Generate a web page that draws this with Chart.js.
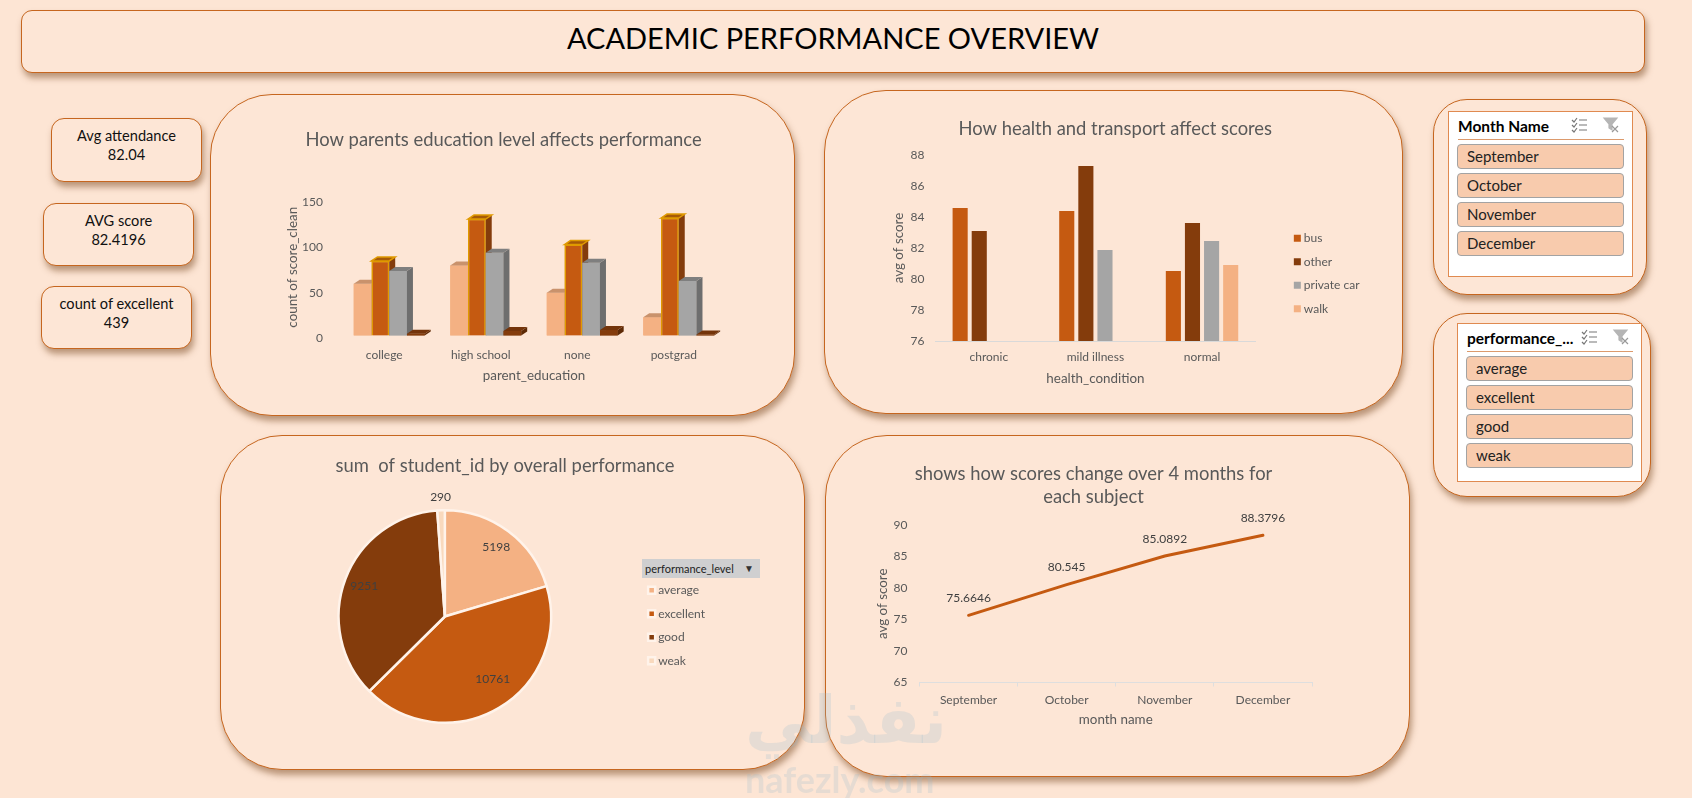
<!DOCTYPE html>
<html lang="en">

<head>
    <meta charset="UTF-8">
    <title>Academic Performance Overview</title>
    <script src="https://cdn.jsdelivr.net/npm/chart.js"></script>
    <style>
        html, body { margin: 0; width: 1692px; height: 798px; overflow: hidden; background: #fde5d4; font-family: Lato, sans-serif; }
        .box { position: absolute; box-sizing: border-box; background: #fde6d6; border: 1.8px solid #c6661f; box-shadow: 2px 5px 6px rgba(120, 70, 30, .5); }
        .panel { border-radius: 62px; }
        .kpi { border-radius: 13px; width: 151px; text-align: center; font-size: 14.6px; line-height: 19px; color: #111; padding-top: 7px; }
        #head { left: 21px; top: 10px; width: 1624px; height: 63px; border-radius: 11px; text-align: center; font-size: 29px; line-height: 54px; color: #000; }
        canvas { position: absolute; }
        .slicer { position: absolute; box-sizing: border-box; background: #fff; border: 1px solid #e08a50; }
        .slicer b { position: absolute; font-size: 15.5px; line-height: 20px; color: #000; }
        .slicer i { position: absolute; height: 1px; background: #dc9a6c; }
        .item { position: absolute; box-sizing: border-box; height: 25px; background: #f8cbad; border: 1px solid #a3a3a3; border-radius: 4px; font-size: 15px; line-height: 22px; padding-left: 9px; color: #222; }
        svg { position: absolute; }
        #field { position: absolute; left: 642px; top: 559px; width: 118px; height: 19px; background: #cfcfd0; font-size: 11px; line-height: 19px; padding-left: 3px; box-sizing: border-box; color: #222; }
        #field span { position: absolute; right: 6px; top: 1px; font-size: 10px; line-height: 17px; color: #333; }
        .mark { position: absolute; color: rgba(150, 185, 205, .22); font-weight: bold; pointer-events: none; white-space: nowrap; }
    </style>
</head>

<body>
    <div class="box" id="head">ACADEMIC PERFORMANCE OVERVIEW</div>

    <div class="box kpi" style="left:51px;top:118px;height:64px">Avg attendance<br>82.04</div>
    <div class="box kpi" style="left:43px;top:203px;height:63px">AVG score<br>82.4196</div>
    <div class="box kpi" style="left:41px;top:286px;height:63px">count of excellent<br>439</div>

    <div class="box panel" style="left:210px;top:94px;width:585px;height:322px"></div>
    <div class="box panel" style="left:824px;top:90px;width:579px;height:324px"></div>
    <div class="box panel" style="left:220px;top:435px;width:585px;height:335px"></div>
    <div class="box panel" style="left:825px;top:435px;width:585px;height:342px"></div>
    <div class="box" style="left:1433px;top:99px;width:214px;height:196px;border-radius:34px"></div>
    <div class="box" style="left:1433px;top:313px;width:218px;height:184px;border-radius:34px"></div>

    <div id="field">performance_level<span>&#9660;</span></div>

    <canvas id="eduChart" width="585" height="322" style="left:208px;top:94px"></canvas>
    <canvas id="healthChart" width="584" height="324" style="left:824px;top:90px"></canvas>
    <canvas id="pieChart" width="616" height="335" style="left:220px;top:435px"></canvas>
    <canvas id="monthChart" width="532" height="342" style="left:825px;top:435px"></canvas>

    <div class="slicer" id="monthSlicer" style="left:1448px;top:111px;width:185px;height:166px"></div>
    <div class="slicer" id="levelSlicer" style="left:1457px;top:323px;width:185px;height:159px"></div>

    <div class="mark" style="left:745px;top:682px;font-size:66px;font-family:'DejaVu Sans'" dir="rtl">نفذلي</div>
    <div class="mark" style="left:745px;top:757px;font-size:36px">nafezly.com</div>

    <script>
        // chart 1
        const eduCategories = ['college', 'high school', 'none', 'postgrad'];
        const eduAverage = [57, 77, 47, 20];
        const eduExcellent = [82, 128, 100, 129];
        const eduGood = [71, 91, 80, 60];
        const eduWeak = [2, 5, 6, 1];

        // chart 2
        const healthCategories = ['chronic', 'mild illness', 'normal'];
        const busScores = [84.58, 84.39, 80.52];
        const otherScores = [83.1, 87.29, 83.61];
        const carScores = [null, 81.87, 82.45];
        const walkScores = [null, null, 80.9];

        // chart 3
        const levelNames = ['average', 'excellent', 'good', 'weak'];
        const studentSums = [5198, 10761, 9251, 290];

        // chart 4
        const monthNames = ['September', 'October', 'November', 'December'];
        const monthScores = [75.6646, 80.545, 85.0892, 88.3796];

        const TEXT = '#595959';
        const ORANGE = '#c55a11';
        const BROWN = '#843c0c';
        const GREY = '#a5a5a5';
        const PEACH = '#f4b183';
        const CREAM = '#f9d9bd';

        Chart.defaults.font.family = 'Lato';
        Chart.defaults.font.size = 12;
        Chart.defaults.color = TEXT;
        Chart.defaults.animation = false;
        Chart.defaults.responsive = false;
        Chart.defaults.plugins.tooltip.enabled = false;
        Chart.defaults.plugins.legend.display = false;

        // fake 3d sides and tops on the bars, left to right so nearer bars cover the sides
        const depth3d = {
            id: 'depth3d',
            afterDatasetsDraw(chart) {
                const ctx = chart.ctx;
                const dx = 6, dy = 4;
                const count = chart.data.labels.length;
                for (let c = 0; c < count; c++) {
                    chart.data.datasets.forEach(function (ds, d) {
                        const bar = chart.getDatasetMeta(d).data[c];
                        const left = bar.x - bar.width / 2;
                        const right = bar.x + bar.width / 2;
                        ctx.save();
                        bar.draw(ctx);
                        ctx.fillStyle = ds.sideColor;
                        ctx.beginPath();
                        ctx.moveTo(right, bar.y);
                        ctx.lineTo(right + dx, bar.y - dy);
                        ctx.lineTo(right + dx, bar.base - dy);
                        ctx.lineTo(right, bar.base);
                        ctx.closePath();
                        ctx.fill();
                        ctx.fillStyle = ds.topColor;
                        ctx.beginPath();
                        ctx.moveTo(left, bar.y);
                        ctx.lineTo(left + dx, bar.y - dy);
                        ctx.lineTo(right + dx, bar.y - dy);
                        ctx.lineTo(right, bar.y);
                        ctx.closePath();
                        ctx.fill();
                        if (ds.borderWidth) {
                            ctx.strokeStyle = ds.borderColor;
                            ctx.lineWidth = 1.5;
                            ctx.stroke();
                        }
                        ctx.restore();
                    });
                }
            }
        };

        // move legend and title a little after layout, excel puts them off centre
        const boxNudge = {
            id: 'boxNudge',
            afterLayout(chart, args, opts) {
                const l = chart.legend;
                if (l && opts.x !== undefined) {
                    l.left += opts.x; l.right += opts.x;
                    l.top += opts.y; l.bottom += opts.y;
                }
                if (opts.titleX) {
                    chart.titleBlock.left += opts.titleX;
                    chart.titleBlock.right += opts.titleX;
                }
            }
        };

        // radius factor and angle shift of each pie label
        const pieLabelSpots = [[0.81, 0], [0.74, -0.12], [0.81, 0], [1.12, 0]];

        const pieLabels = {
            id: 'pieLabels',
            afterDatasetsDraw(chart) {
                const ctx = chart.ctx;
                ctx.save();
                ctx.font = '12px Lato';
                ctx.fillStyle = '#404040';
                ctx.textAlign = 'center';
                ctx.textBaseline = 'middle';
                chart.getDatasetMeta(0).data.forEach(function (arc, i) {
                    const mid = (arc.startAngle + arc.endAngle) / 2 + pieLabelSpots[i][1];
                    const r = arc.outerRadius * pieLabelSpots[i][0];
                    ctx.fillText(studentSums[i], arc.x + Math.cos(mid) * r, arc.y + Math.sin(mid) * r);
                });
                ctx.restore();
            }
        };

        const lineLabels = {
            id: 'lineLabels',
            afterDatasetsDraw(chart) {
                const ctx = chart.ctx;
                ctx.save();
                ctx.font = '12px Lato';
                ctx.fillStyle = '#404040';
                ctx.textAlign = 'center';
                ctx.textBaseline = 'middle';
                chart.getDatasetMeta(0).data.forEach(function (pt, i) {
                    ctx.fillText(monthScores[i], pt.x, pt.y - 17);
                });
                ctx.restore();
            }
        };

        function chartTitle(text, bottom) {
            return { display: true, text: text, color: TEXT, font: { size: 18.4, weight: 'normal', lineHeight: 1.25 }, padding: { top: 0, bottom: bottom } };
        }

        function axisTitle(text, pad) {
            return { display: true, text: text, color: TEXT, font: { size: 13.4 }, padding: pad };
        }

        const legendLabels = { usePointStyle: true, pointStyle: 'rect', boxWidth: 1, boxHeight: 7, padding: 11.5, color: TEXT, font: { size: 12 } };

        new Chart(document.getElementById('eduChart'), {
            type: 'bar',
            plugins: [depth3d, boxNudge],
            data: {
                labels: eduCategories,
                datasets: [
                    { label: 'average', data: eduAverage, backgroundColor: PEACH, sideColor: '#c9926c', topColor: '#c9926c' },
                    { label: 'excellent', data: eduExcellent, backgroundColor: ORANGE, borderColor: '#e09a00', borderWidth: 1.5, sideColor: BROWN, topColor: '#a65a08' },
                    { label: 'good', data: eduGood, backgroundColor: GREY, sideColor: '#6e6e6e', topColor: '#7f7f7f' },
                    { label: 'weak', data: eduWeak, backgroundColor: BROWN, sideColor: '#5e2a06', topColor: '#74340a' }
                ]
            },
            options: {
                layout: { padding: { top: 35, left: 77, right: 66, bottom: 32 } },
                datasets: { bar: { categoryPercentage: 0.735, barPercentage: 1 } },
                plugins: {
                    title: chartTitle('How parents education level affects performance', 47),
                    boxNudge: { titleX: -2.5 }
                },
                scales: {
                    x: {
                        grid: { display: false }, border: { display: false },
                        ticks: { padding: 4, labelOffset: -5 },
                        title: axisTitle('parent_education', { top: 2, bottom: 0 })
                    },
                    y: {
                        min: 0, max: 150,
                        grid: { display: false }, border: { display: false },
                        ticks: { stepSize: 50, padding: 10, labelOffset: 3 },
                        title: axisTitle('count of score_clean', { top: 0, bottom: -9 })
                    }
                }
            }
        });

        new Chart(document.getElementById('healthChart'), {
            type: 'bar',
            plugins: [boxNudge],
            data: {
                labels: healthCategories,
                datasets: [
                    { label: 'bus', data: busScores, backgroundColor: ORANGE },
                    { label: 'other', data: otherScores, backgroundColor: BROWN },
                    { label: 'private car', data: carScores, backgroundColor: GREY },
                    { label: 'walk', data: walkScores, backgroundColor: PEACH }
                ]
            },
            options: {
                layout: { padding: { top: 28, left: 67, right: 68.5, bottom: 27 } },
                datasets: { bar: { categoryPercentage: 0.717, barPercentage: 0.79 } },
                plugins: {
                    title: chartTitle('How health and transport affect scores', 14),
                    legend: { display: true, position: 'right', labels: legendLabels },
                    boxNudge: { x: 30, y: 21 }
                },
                scales: {
                    x: {
                        grid: { display: false }, border: { color: '#d9d9d9' },
                        ticks: { padding: 1 },
                        title: axisTitle('health_condition', { top: 5.5, bottom: 0 })
                    },
                    y: {
                        min: 76, max: 88,
                        grid: { display: false }, border: { display: false },
                        ticks: { stepSize: 2, padding: 3 },
                        title: axisTitle('avg of score', { top: 0, bottom: 0.5 })
                    }
                }
            }
        });

        new Chart(document.getElementById('pieChart'), {
            type: 'pie',
            plugins: [boxNudge, pieLabels],
            data: {
                labels: levelNames,
                datasets: [{
                    data: studentSums,
                    backgroundColor: [PEACH, ORANGE, BROWN, CREAM],
                    borderColor: '#fff3ea',
                    borderWidth: 2.5
                }]
            },
            options: {
                layout: { padding: { top: 20, left: 22, right: 113, bottom: 46 } },
                plugins: {
                    title: chartTitle('sum  of student_id by overall performance', 31),
                    legend: { display: true, position: 'right', labels: legendLabels },
                    boxNudge: { x: -8, y: 36, titleX: 22.5 }
                }
            }
        });

        new Chart(document.getElementById('monthChart'), {
            type: 'line',
            plugins: [lineLabels],
            data: {
                labels: monthNames,
                datasets: [{ label: 'avg of score', data: monthScores, borderColor: ORANGE, borderWidth: 3, pointRadius: 0, tension: 0, borderCapStyle: 'round' }]
            },
            options: {
                layout: { padding: { top: 28, left: 50, right: 45, bottom: 49 } },
                plugins: { title: chartTitle(['shows how scores change over 4 months for', 'each subject'], 16) },
                scales: {
                    x: {
                        offset: true,
                        grid: { offset: true, drawOnChartArea: false, color: '#dedede', tickLength: 4 },
                        border: { color: '#dedede' },
                        ticks: { padding: 6 },
                        title: axisTitle('month name', { top: -1, bottom: 0 })
                    },
                    y: {
                        min: 65, max: 90,
                        grid: { display: false }, border: { display: false },
                        ticks: { stepSize: 5, padding: 4 },
                        title: axisTitle('avg of score', { top: 0, bottom: -1.5 })
                    }
                }
            }
        });

        // slicers on the right
        function buildSlicer(id, title, items, left, iconLeft) {
            const box = document.getElementById(id);
            let html = `<b style="left:${left}px;top:4px">${title}</b><i style="left:${left}px;top:27px;width:166px"></i>`;
            items.forEach(function (name, i) {
                html += `<div class="item" style="left:${left - 1}px;top:${32 + i * 29}px;width:167px">${name}</div>`;
            });
            html += `<svg style="left:${iconLeft}px;top:5px" width="50" height="16" fill="none" stroke-width="1.2">
                <path d="M1 3l2 2 3-4M1 8l2 2 3-4M1 13l2 2 3-4" stroke="#777"/>
                <path d="M8 3h8M8 8h8M8 13h8" stroke="#777"/>
                <path d="M33 1h13l-5 6v6l-3-2v-4z" fill="#b5b5b5" stroke="#b5b5b5"/>
                <path d="M41 9l6 6M47 9l-6 6" stroke="#999"/>
            </svg>`;
            box.innerHTML = html;
        }
        buildSlicer('monthSlicer', 'Month Name', monthNames, 9, 122);
        buildSlicer('levelSlicer', 'performance_...', levelNames, 9, 123);
    </script>
</body>

</html>
